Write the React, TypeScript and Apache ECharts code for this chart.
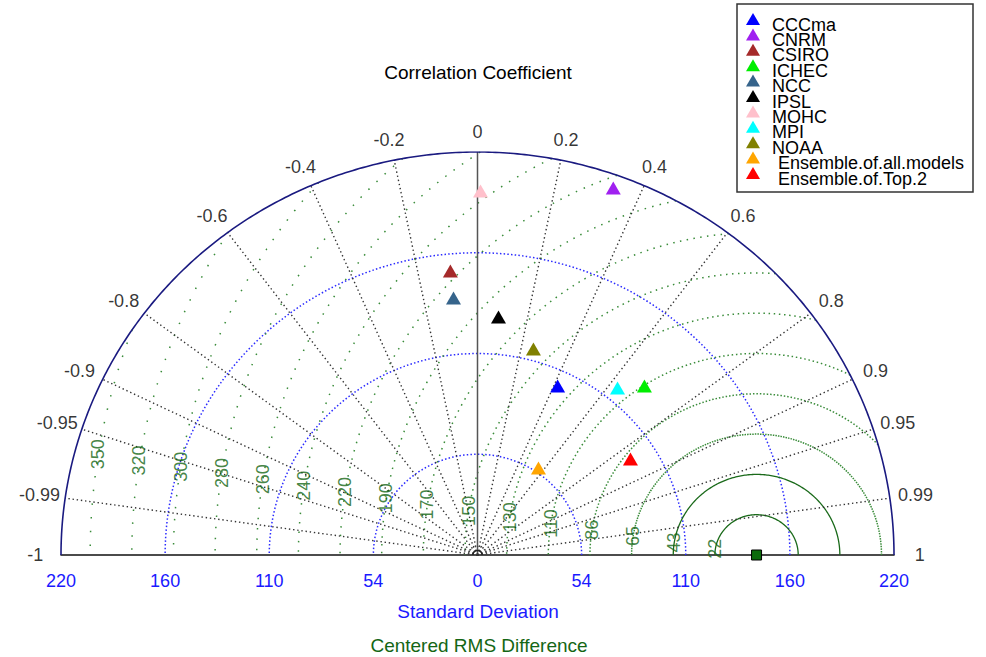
import React, { useEffect, useRef } from "react";
import * as echarts from "echarts";

const FONT = "'Liberation Sans', Arial, sans-serif";

// ---------- data ----------
const modelNames = [
  "CCCma", "CNRM", "CSIRO", "ICHEC", "NCC", "IPSL", "MOHC", "MPI", "NOAA",
  "Ensemble.of.all.models", "Ensemble.of.Top.2",
];
const modelColors = [
  "#0000ff", "#a020f0", "#a52a2a", "#00ee00", "#36648b", "#000000",
  "#ffc0cb", "#00ffff", "#808000", "#ffa500", "#ff0000",
];
const modelSD = [101.5, 212.8, 155.7, 127.6, 140.9, 130.4, 198.7, 117.4, 116.3, 57.4, 96.3];
const modelCorr = [0.417, 0.337, -0.092, 0.691, -0.09, 0.085, 0.008, 0.63, 0.254, 0.561, 0.839];

const refSD = 147.4;
const maxSD = 220;

const sdTicks = [0, 55, 110, 165, 220];
const sdTickLabels = ["0", "54", "110", "160", "220"];

const corrTicks = [-1, -0.99, -0.95, -0.9, -0.8, -0.6, -0.4, -0.2, 0, 0.2, 0.4, 0.6, 0.8, 0.9, 0.95, 0.99, 1];
const corrTickLabels = ["-1", "-0.99", "-0.95", "-0.9", "-0.8", "-0.6", "-0.4", "-0.2", "0", "0.2", "0.4", "0.6", "0.8", "0.9", "0.95", "0.99", "1"];

const rmsRadii = [22, 44, 66, 88, 110, 132, 154, 176, 198, 220, 242, 264, 286, 308, 330, 352];
const rmsLabels = ["22", "43", "65", "86", "110", "130", "150", "170", "190", "220", "240", "260", "280", "300", "320", "350"];

// ---------- helpers ----------
function arc(cx: number, r: number, a0: number, a1: number, n = 240) {
  const pts: number[][] = [];
  for (let i = 0; i <= n; i++) {
    const a = a0 + ((a1 - a0) * i) / n;
    pts.push([cx + r * Math.cos(a), r * Math.sin(a)]);
  }
  return pts;
}

function lineSeries(data: number[][], color: string, width: number, type: any, z = 2) {
  return {
    type: "line",
    data,
    showSymbol: false,
    symbol: "none",
    silent: true,
    z,
    lineStyle: { color, width, type },
    animation: false,
  };
}

export default function App() {
  const ref = useRef<HTMLDivElement>(null);

  useEffect(() => {
    document.body.style.margin = "0";
    if (!ref.current) return;
    const chart = echarts.init(ref.current, undefined, { renderer: "svg" });

    const series: any[] = [];

    // SD circles (blue dotted)
    sdTicks.slice(1, -1).forEach((s) => {
      series.push(lineSeries(arc(0, s, 0, Math.PI), "#2b2bff", 1.5, [1.5, 2.2]));
    });

    // RMS arcs around reference
    rmsRadii.forEach((r) => {
      let c = (maxSD * maxSD - refSD * refSD - r * r) / (2 * refSD * r);
      c = Math.max(-1, Math.min(1, c));
      const t0 = Math.acos(c);
      const rpx = r * 1.86;
      const spacing = 0.021 * rpx;
      const gap = spacing - 1.5;
      const solid = gap < 0.5;
      series.push(
        lineSeries(
          arc(refSD, r, t0, Math.PI, 400),
          solid ? "#1a6a1a" : "#3a8c3a",
          solid ? 1.3 : 1.5,
          solid ? "solid" : [1.5, gap],
          2
        )
      );
    });

    // correlation radial lines
    corrTicks.forEach((c) => {
      if (Math.abs(c) === 1) return;
      const s = Math.sqrt(1 - c * c);
      const pts = [[0, 0], [maxSD * c, maxSD * s]];
      if (c === 0) series.push(lineSeries(pts, "#555555", 1.5, "solid", 3));
      else series.push(lineSeries(pts, "#333333", 1.4, [1.4, 2.8], 3));
    });

    // outer semicircle
    series.push(lineSeries(arc(0, maxSD, 0, Math.PI, 360), "#1a1a80", 1.6, "solid", 4));
    // small arcs at the origin
    series.push(lineSeries(arc(0, 2.4, 0, Math.PI, 30), "#222222", 1.2, "solid", 4));
    series.push(lineSeries(arc(0, 4.6, 0, Math.PI, 40), "#444444", 1, [1, 1.5], 4));

    // RMS labels
    const la = (171 * Math.PI) / 180;
    series.push({
      type: "scatter",
      silent: true,
      clip: false,
      symbolSize: 1,
      itemStyle: { color: "rgba(0,0,0,0)" },
      z: 5,
      data: rmsRadii.map((r, i) => ({
        value: [refSD + r * Math.cos(la), r * Math.sin(la)],
        label: { formatter: rmsLabels[i] },
      })),
      label: {
        show: true,
        position: "inside",
        rotate: 90,
        color: "#146614",
        fontSize: 18,
        fontFamily: FONT,
      },
    });

    // correlation labels
    series.push({
      type: "scatter",
      silent: true,
      clip: false,
      symbolSize: 1,
      itemStyle: { color: "rgba(0,0,0,0)" },
      z: 5,
      data: corrTicks.map((c, i) => ({
        value: [1.062 * maxSD * c, 1.05 * maxSD * Math.sqrt(1 - c * c)],
        label: { formatter: corrTickLabels[i] },
      })),
      label: {
        show: true,
        position: "inside",
        color: "#000",
        fontSize: 18,
        fontFamily: FONT,
      },
    });

    // models
    modelNames.forEach((n, i) => {
      const sd = modelSD[i];
      const c = modelCorr[i];
      series.push({
        type: "scatter",
        name: n,
        symbol: "triangle",
        symbolSize: [15, 13],
        z: 10,
        itemStyle: { color: modelColors[i], opacity: 1 },
        data: [[sd * c, sd * Math.sqrt(1 - c * c)]],
      });
    });

    // reference point
    series.push({
      type: "scatter",
      name: "Reference",
      symbol: "rect",
      symbolSize: 10,
      z: 11,
      clip: false,
      itemStyle: { color: "#0b6b0b", borderColor: "#000", borderWidth: 1, opacity: 1 },
      data: [[refSD, 0]],
    });

    // legend (drawn)
    const legendChildren: any[] = [
      {
        type: "rect",
        shape: { x: 0, y: 0, width: 236, height: 188 },
        style: { fill: "#fff", stroke: "#333", lineWidth: 1.5 },
      },
    ];
    modelNames.forEach((n, i) => {
      const cy = 15 + i * 15.4;
      legendChildren.push({
        type: "polygon",
        shape: { points: [[9, cy + 6], [23, cy + 6], [16, cy - 6]] },
        style: { fill: modelColors[i] },
      });
      legendChildren.push({
        type: "text",
        x: i >= 9 ? 41 : 35,
        y: cy + 5.5,
        style: {
          text: n,
          fontSize: 18,
          lineHeight: 15,
          fontFamily: FONT,
          fill: "#000",
          align: "left",
          verticalAlign: "middle",
        },
      });
    });

    chart.setOption({
      animation: false,
      backgroundColor: "#fff",
      grid: { left: 61, right: 92, top: 152, bottom: 102, containLabel: false },
      xAxis: {
        type: "value",
        min: -220,
        max: 220,
        interval: 55,
        splitLine: { show: false },
        axisTick: { show: false },
        axisLine: { show: true, onZero: false, lineStyle: { color: "#111", width: 1.6 } },
        axisLabel: {
          color: "#1a1aff",
          fontSize: 18,
          fontFamily: FONT,
          margin: 17,
          formatter: (v: number) => {
            const k = sdTicks.indexOf(Math.abs(v));
            return k >= 0 ? sdTickLabels[k] : "";
          },
        },
      },
      yAxis: {
        type: "value",
        min: 0,
        max: 220,
        show: false,
      },
      graphic: [
        {
          type: "text",
          x: 478,
          y: 72,
          style: {
            text: "Correlation Coefficient",
            fontSize: 19,
            fontFamily: FONT,
            fill: "#000",
            align: "center",
            verticalAlign: "middle",
          },
        },
        {
          type: "text",
          x: 478,
          y: 611,
          style: {
            text: "Standard Deviation",
            fontSize: 19,
            fontFamily: FONT,
            fill: "#1a1aff",
            align: "center",
            verticalAlign: "middle",
          },
        },
        {
          type: "text",
          x: 479,
          y: 645,
          style: {
            text: "Centered RMS Difference",
            fontSize: 19,
            fontFamily: FONT,
            fill: "#146614",
            align: "center",
            verticalAlign: "middle",
          },
        },
        { type: "group", x: 737, y: 4, children: legendChildren },
      ],
      series,
    });

    return () => chart.dispose();
  }, []);

  return <div ref={ref} style={{ width: 986, height: 657 }} />;
}
